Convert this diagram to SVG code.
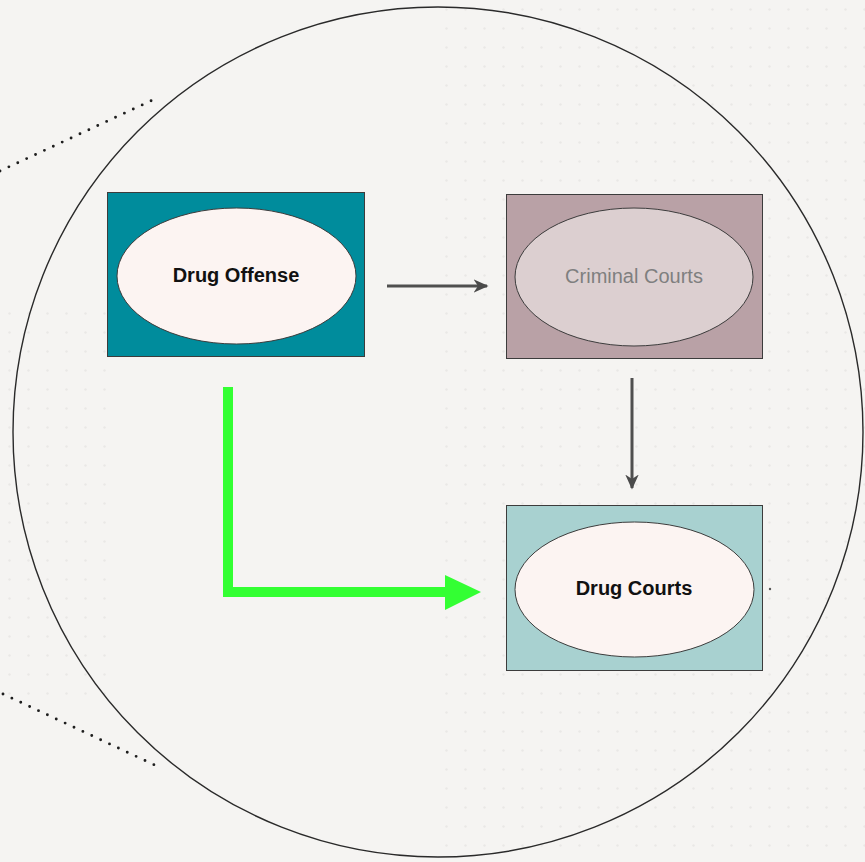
<svg xmlns="http://www.w3.org/2000/svg" width="865" height="862" viewBox="0 0 865 862">
  <defs>
    <pattern id="grid" width="19" height="19" patternUnits="userSpaceOnUse">
      <circle cx="9.5" cy="9.5" r="1.2" fill="#e9e8e6"/>
    </pattern>
    <marker id="head-gray" viewBox="0 0 10 10" refX="9" refY="5" markerWidth="5" markerHeight="5" orient="auto" markerUnits="strokeWidth">
      <path d="M0,0.5 L10,5 L0,9.5 L3,5 Z" fill="#4a4a4a"/>
    </marker>
    <style>
      .box { stroke: #3c3c3c; stroke-width: 1; }
      .oval { stroke: #3c3c3c; stroke-width: 1; }
      .label { font-family: "Liberation Sans", Arial, sans-serif; font-size: 20px; text-anchor: middle; dominant-baseline: central; }
      .bold { font-weight: bold; fill: #111111; }
      .dim { fill: #7f7f7f; }
      .gray-link { stroke: #4f4f4f; stroke-width: 3; fill: none; marker-end: url(#head-gray); }
      .dots { stroke: #1e1e1e; stroke-width: 2.9; stroke-linecap: round; stroke-dasharray: 0 9.8; fill: none; }
    </style>
  </defs>

  <!-- backdrop -->
  <rect width="865" height="862" fill="#f5f4f2"/>
  <rect x="440" y="0" width="425" height="862" fill="url(#grid)"/>
  <rect x="0" y="300" width="120" height="400" fill="url(#grid)"/>

  <!-- dotted leader lines -->
  <path class="dots" d="M0,171 L157,98"/>
  <path class="dots" d="M3,694 L161,768"/>

  <!-- enclosing circle -->
  <circle cx="438" cy="432" r="425" fill="none" stroke="#2a2a2a" stroke-width="1.4"/>

  <g id="connectors">
    <path class="gray-link" d="M387,286 L487,286"/>
    <path class="gray-link" d="M632,378 L632,488"/>
    <path d="M228,387 L228,592 L452,592" fill="none" stroke="#33ff33" stroke-width="10"/>
    <path d="M445,575 L481,592 L445,610 Z" fill="#33ff33"/>
  </g>

  <g id="drug-offense">
    <rect class="box" x="107.5" y="192.5" width="257" height="164" fill="#008c9c"/>
    <ellipse class="oval" cx="236.5" cy="276" rx="119.5" ry="68" fill="#fcf4f2"/>
    <text class="label bold" x="236" y="275">Drug Offense</text>
  </g>

  <g id="criminal-courts">
    <rect class="box" x="506.5" y="194.5" width="256" height="164" fill="#b9a1a6" stroke="#9a8a8d"/>
    <ellipse class="oval" cx="634" cy="277" rx="119" ry="69" fill="#dccfd0" stroke="#6e6466"/>
    <text class="label dim" x="634" y="276">Criminal Courts</text>
  </g>

  <g id="drug-courts">
    <rect class="box" x="506.5" y="505.5" width="256" height="165" fill="#a8d1d0" stroke="#555"/>
    <ellipse class="oval" cx="634.5" cy="589.5" rx="119.5" ry="67.5" fill="#fcf4f2"/>
    <text class="label bold" x="634" y="588">Drug Courts</text>
  </g>

  <circle cx="770" cy="589" r="1.2" fill="#555"/>
</svg>
